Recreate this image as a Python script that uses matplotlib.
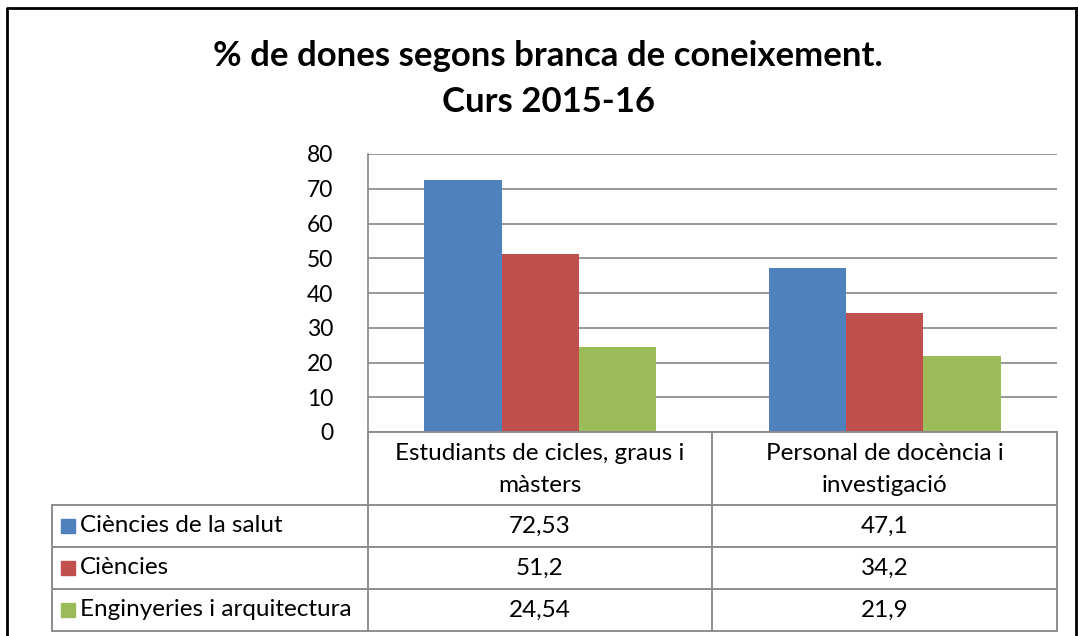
import matplotlib.pyplot as plt
import numpy as np

plt.rcParams['font.family'] = ['Lato', 'DejaVu Sans']

title = '% de dones segons branca de coneixement.\nCurs 2015-16'
categories = ['Estudiants de cicles, graus i\nmàsters', 'Personal de docència i\ninvestigació']
series = ['Ciències de la salut', 'Ciències', 'Enginyeries i arquitectura']
values = [[72.53, 47.1], [51.2, 34.2], [24.54, 21.9]]
labels = [['72,53', '47,1'], ['51,2', '34,2'], ['24,54', '21,9']]
colors = ['#4F81BD', '#C0504D', '#9BBB59']
yticks = [0, 10, 20, 30, 40, 50, 60, 70, 80]

W, H = 1078, 636
fig = plt.figure(figsize=(W / 100, H / 100), dpi=100)


def px(x0, y0, x1, y1):
    return [x0 / W, 1 - y1 / H, (x1 - x0) / W, (y1 - y0) / H]


# plot area
ax = fig.add_axes(px(368, 154, 1057, 432))
x = np.arange(len(categories))
bw = 0.224
for i, (name, vals) in enumerate(zip(series, values)):
    ax.bar(x + (i - 1) * bw, vals, width=bw, color=colors[i], zorder=3)
ax.set_xlim(-0.5, len(categories) - 0.5)
ax.set_ylim(0, 80)
ax.set_yticks(yticks)
ax.set_yticklabels([str(t) for t in yticks], fontsize=16.5)
ax.yaxis.grid(True, color='#868686', lw=1.2)
ax.set_axisbelow(True)
ax.tick_params(axis='y', length=0, pad=25)
ax.set_xticks([])
for s in ['top', 'right', 'bottom']:
    ax.spines[s].set_visible(False)
ax.spines['left'].set_color('#868686')
ax.spines['left'].set_linewidth(1.2)

# overlay for title, table and frame (pixel coordinates)
ov = fig.add_axes([0, 0, 1, 1], facecolor='none')
ov.set_xlim(0, W)
ov.set_ylim(H, 0)
ov.axis('off')

ov.plot([7, 7, W - 2], [H, 8, 8], color='black', lw=2)
ov.plot([W - 2, W - 2], [8, H], color='black', lw=2)

ov.text(548, 79, title, ha='center', va='center', fontsize=25, fontweight='bold',
        linespacing=1.5)

# data table
gc = '#8c8c8c'
col_x = [52, 368, 712, 1057]
row_y = [432, 505, 547, 589, 631]
for xv in col_x[1:]:
    ov.plot([xv, xv], [row_y[0], row_y[-1]], color=gc, lw=1.4)
ov.plot([col_x[0], col_x[0]], [row_y[1], row_y[-1]], color=gc, lw=1.4)
ov.plot([col_x[1], col_x[-1]], [row_y[0], row_y[0]], color=gc, lw=1.4)
for yv in row_y[1:]:
    ov.plot([col_x[0], col_x[-1]], [yv, yv], color=gc, lw=1.4)

for j, cat in enumerate(categories):
    cx = (col_x[j + 1] + col_x[j + 2]) / 2
    ov.text(cx, (row_y[0] + row_y[1]) / 2 + 1, cat, ha='center', va='center',
            fontsize=17.5, linespacing=1.65)

for i, name in enumerate(series):
    cy = (row_y[i + 1] + row_y[i + 2]) / 2
    ov.add_patch(plt.Rectangle((61, cy - 7), 14, 14, color=colors[i]))
    ov.text(80, cy, name, ha='left', va='center', fontsize=17.5)
    for j in range(len(categories)):
        cx = (col_x[j + 1] + col_x[j + 2]) / 2
        ov.text(cx, cy, labels[i][j], ha='center', va='center', fontsize=17.5)

fig.savefig('out.png', dpi=100)
